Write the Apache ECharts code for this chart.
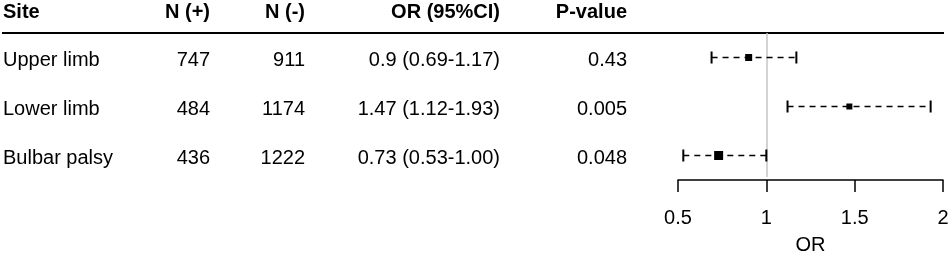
<!DOCTYPE html>
<html>
<head>
<meta charset="utf-8">
<script src="https://cdn.jsdelivr.net/npm/echarts@6/dist/echarts.min.js"></script>
<style>
html,body{margin:0;padding:0;background:#fff;}
#c{width:950px;height:254px;}
</style>
</head>
<body>
<div id="c"></div>
<script>
// ---- data ----
const headers = ['Site', 'N (+)', 'N (-)', 'OR (95%CI)', 'P-value'];
const sites = ['Upper limb', 'Lower limb', 'Bulbar palsy'];
const nPos = [747, 484, 436];
const nNeg = [911, 1174, 1222];
const orValues = [0.9, 1.47, 0.73];
const ciLower = [0.69, 1.12, 0.53];
const ciUpper = [1.17, 1.93, 1.00];
const ciText = ['0.9 (0.69-1.17)', '1.47 (1.12-1.93)', '0.73 (0.53-1.00)'];
const pValues = ['0.43', '0.005', '0.048'];
const xTicks = [0.5, 1, 1.5, 2];
const refValue = 1;

// ---- style ----
const FONT = '"Liberation Sans", Arial, sans-serif';
const BOX_PX = [7, 6, 9];
const COLS = [
  {x: 3, align: 'left'},
  {x: 210, align: 'right'},
  {x: 305, align: 'right'},
  {x: 500, align: 'right'},
  {x: 627, align: 'right'}
];

const chart = echarts.init(document.getElementById('c'), null, {renderer: 'canvas'});

const ciData = orValues.map((v, i) => [v, ciLower[i], ciUpper[i], i + 1, i]);

const option = {
  animation: false,
  backgroundColor: '#fff',
  grid: {left: 678, right: 7, top: 33, height: 147, outerBoundsMode: 'none', containLabel: false},
  xAxis: {
    type: 'value', min: xTicks[0], max: xTicks[xTicks.length - 1], interval: 0.5,
    axisLine: {show: true, lineStyle: {color: '#000', width: 1.5}},
    axisTick: {show: true, length: 12, lineStyle: {color: '#000', width: 1.5}},
    axisLabel: {fontSize: 20, color: '#000', fontFamily: FONT, margin: 28,
      formatter: v => String(v)},
    splitLine: {show: false},
    name: 'OR', nameLocation: 'middle', nameGap: 55,
    nameTextStyle: {fontSize: 20, color: '#000', fontFamily: FONT}
  },
  yAxis: {type: 'value', min: 0.5, max: 3.5, inverse: true, show: false},
  series: [
    {
      type: 'custom',
      data: ciData,
      z: 5,
      renderItem: function (params, api) {
        const row = api.value(3);
        const idx = api.value(4);
        const c = api.coord([api.value(0), row]);
        const l = api.coord([api.value(1), row]);
        const h = api.coord([api.value(2), row]);
        const s = BOX_PX[idx];
        return {
          type: 'group',
          children: [
            {type: 'line', shape: {x1: l[0], y1: l[1], x2: h[0], y2: h[1]},
             style: {stroke: '#000', lineWidth: 1.5, lineDash: [6, 5]}},
            {type: 'line', shape: {x1: l[0], y1: l[1] - 6, x2: l[0], y2: l[1] + 6},
             style: {stroke: '#000', lineWidth: 2}},
            {type: 'line', shape: {x1: h[0], y1: h[1] - 6, x2: h[0], y2: h[1] + 6},
             style: {stroke: '#000', lineWidth: 2}},
            {type: 'rect', shape: {x: c[0] - s / 2, y: c[1] - s / 2, width: s, height: s},
             style: {fill: '#000'}}
          ]
        };
      },
      markLine: {
        silent: true, symbol: 'none', label: {show: false},
        lineStyle: {color: '#c4c4c4', width: 1.5, type: 'solid'},
        data: [[{coord: [refValue, 0.5]}, {coord: [refValue, 3.44]}]]
      }
    }
  ]
};
chart.setOption(option);

// table text
const graphics = [];
headers.forEach((h, j) => {
  graphics.push({type: 'text', x: COLS[j].x, y: 12.5,
    style: {text: h, fill: '#000', font: 'bold 20px ' + FONT, textAlign: COLS[j].align, textVerticalAlign: 'middle'}});
});
graphics.push({type: 'line', shape: {x1: 2, y1: 33, x2: 944, y2: 33}, style: {stroke: '#000', lineWidth: 2}});
sites.forEach((s, i) => {
  const y = chart.convertToPixel({yAxisIndex: 0}, i + 1) + 2.5;
  const vals = [s, String(nPos[i]), String(nNeg[i]), ciText[i], pValues[i]];
  vals.forEach((t, j) => {
    graphics.push({type: 'text', x: COLS[j].x, y: y,
      style: {text: t, fill: '#000', font: '20px ' + FONT, textAlign: COLS[j].align, textVerticalAlign: 'middle'}});
  });
});
chart.setOption({graphic: graphics});
</script>
</body>
</html>
